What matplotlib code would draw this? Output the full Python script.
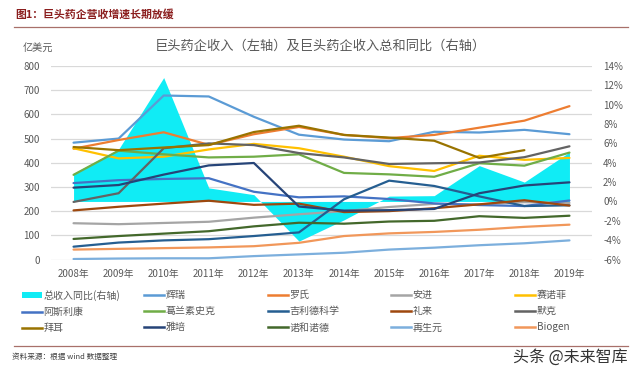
import matplotlib
matplotlib.use("Agg")
import matplotlib.pyplot as plt
from matplotlib.lines import Line2D
from matplotlib.patches import Patch

plt.rcParams['font.family'] = ['Noto Sans CJK SC', 'DejaVu Sans']

# --- data ---
years = [2008, 2009, 2010, 2011, 2012, 2013, 2014, 2015, 2016, 2017, 2018, 2019]
year_labels = [f"{y}年" for y in years]

# total revenue growth (right axis, %)
total_growth = [2.9, 5.4, 12.8, 1.4, 0.7, -4.1, -1.9, 0.55, 0.6, 3.7, 2.0, 5.1]

# revenue, 亿美元 (left axis)
pfizer = [483, 500, 678, 674, 590, 516, 496, 489, 528, 525, 536, 518]
roche = [458, 494, 526, 474, 518, 548, 515, 502, 515, 545, 574, 634]
amgen = [150, 146, 151, 156, 173, 187, 200, 217, 230, 228, 237, 234]
sanofi = [460, 418, 425, 455, 478, 460, 425, 386, 366, 429, 412, 420]
astrazeneca = [316, 328, 333, 336, 280, 257, 261, 250, 232, 225, 221, 244]
gsk = [350, 450, 435, 422, 425, 435, 358, 352, 342, 398, 388, 442]
gilead = [53, 70, 79, 84, 97, 112, 249, 326, 304, 261, 221, 224]
lilly = [203, 218, 231, 243, 226, 231, 196, 200, 212, 228, 245, 223]
merck = [238, 274, 460, 480, 473, 440, 422, 395, 398, 401, 423, 468]
bayer = [465, 452, 463, 473, 527, 553, 515, 504, 491, 420, 452]
abbott = [297, 308, 351, 389, 399, 219, 202, 204, 209, 274, 306, 319]
novo = [85, 97, 107, 117, 137, 152, 148, 157, 160, 179, 172, 181]
regeneron = [2, 4, 5, 5, 14, 21, 28, 41, 49, 59, 67, 79]
biogen = [41, 44, 47, 50, 55, 69, 97, 108, 114, 123, 135, 144]

series = [
    ("辉瑞", pfizer, "#5B9BD5"),
    ("罗氏", roche, "#ED7D31"),
    ("安进", amgen, "#A5A5A5"),
    ("赛诺菲", sanofi, "#FFC000"),
    ("阿斯利康", astrazeneca, "#4472C4"),
    ("葛兰素史克", gsk, "#70AD47"),
    ("吉利德科学", gilead, "#255E91"),
    ("礼来", lilly, "#9E480E"),
    ("默克", merck, "#636363"),
    ("拜耳", bayer, "#997300"),
    ("雅培", abbott, "#264478"),
    ("诺和诺德", novo, "#43682B"),
    ("再生元", regeneron, "#7CAFDD"),
    ("Biogen", biogen, "#F1975A"),
]
area_label = "总收入同比(右轴)"
area_color = "#10ECF5"

text_gray = "#595959"
rule_color = "#A8706A"

fig = plt.figure(figsize=(6.4, 3.76), dpi=100)

# base axis: left ticks + grid
ax = fig.add_axes([51 / 640, 1 - 259.5 / 376, 541 / 640, 193.5 / 376])
x = list(range(len(years)))
ax.set_xlim(-0.5, len(years) - 0.5)
ax.set_ylim(0, 800)
ax.set_yticks(range(0, 801, 100))
ax.set_xticks(x)
ax.set_xticklabels(year_labels)
ax.grid(axis='y', color='#D9D9D9', lw=0.9)
ax.tick_params(length=0, labelsize=7, labelcolor=text_gray)
ax.tick_params(axis='y', pad=8)
ax.tick_params(axis='x', pad=7)
for s in ax.spines.values():
    s.set_visible(False)

# right axis: growth area
ax2 = ax.twinx()
ax2.fill_between(x, total_growth, 0, color=area_color, lw=0)
ax2.set_ylim(-6, 14)
ax2.set_yticks(range(-6, 15, 2))
ax2.set_yticklabels([f"{v}%" for v in range(-6, 15, 2)])
ax2.tick_params(length=0, labelsize=7, labelcolor=text_gray, pad=8)
for s in ax2.spines.values():
    s.set_visible(False)

# lines on top, same scale as left axis
ax3 = ax.twinx()
ax3.set_ylim(0, 800)
ax3.set_yticks([])
for s in ax3.spines.values():
    s.set_visible(False)
for name, vals, col in series:
    ax3.plot(x[:len(vals)], vals, color=col, lw=1.6, solid_capstyle='round')

ax.set_zorder(1)
ax2.set_zorder(2)
ax3.set_zorder(3)

# texts
fig.text(15 / 640, 1 - 14 / 376, "图1：巨头药企营收增速长期放缓", fontsize=7.8,
         fontweight='bold', color="#8B1E1E", va='center', ha='left')
fig.add_artist(Line2D([14 / 640, 628 / 640], [1 - 26.5 / 376] * 2, color=rule_color, lw=0.9))
fig.text(320 / 640, 1 - 46 / 376, "巨头药企收入（左轴）及巨头药企收入总和同比（右轴）",
         fontsize=9.5, color=text_gray, ha='center', va='center')
fig.text(23 / 640, 1 - 48 / 376, "亿美元", fontsize=7.3, color=text_gray, ha='left', va='center')

# legend: 5 columns of 3 rows
handles = [Patch(facecolor=area_color, edgecolor='none')] + \
    [Line2D([], [], color=c, lw=1.8) for _, _, c in series]
labels = [area_label] + [n for n, _, _ in series]
col_x = [22, 144, 268, 391, 515]
for c in range(5):
    idx = [c, c + 5, c + 10]
    fig.legend([handles[i] for i in idx], [labels[i] for i in idx],
               loc='upper left', bbox_to_anchor=(col_x[c] / 640, 1 - 290 / 376),
               frameon=False, fontsize=7.2, labelcolor=text_gray,
               handlelength=2.0, handleheight=0.6, handletextpad=0.15,
               labelspacing=0.62, borderpad=0, borderaxespad=0)

fig.add_artist(Line2D([14 / 640, 628 / 640], [1 - 346 / 376] * 2, color=rule_color, lw=0.9))
fig.text(12 / 640, 1 - 357 / 376, "资料来源：根据 wind 数据整理", fontsize=5.5,
         style='italic', color="#404040", ha='left', va='center')
fig.text(628 / 640, 1 - 357 / 376, "头条 @未来智库", fontsize=11.5, color="#333333",
         ha='right', va='center')

fig.savefig("out.png", dpi=100)
